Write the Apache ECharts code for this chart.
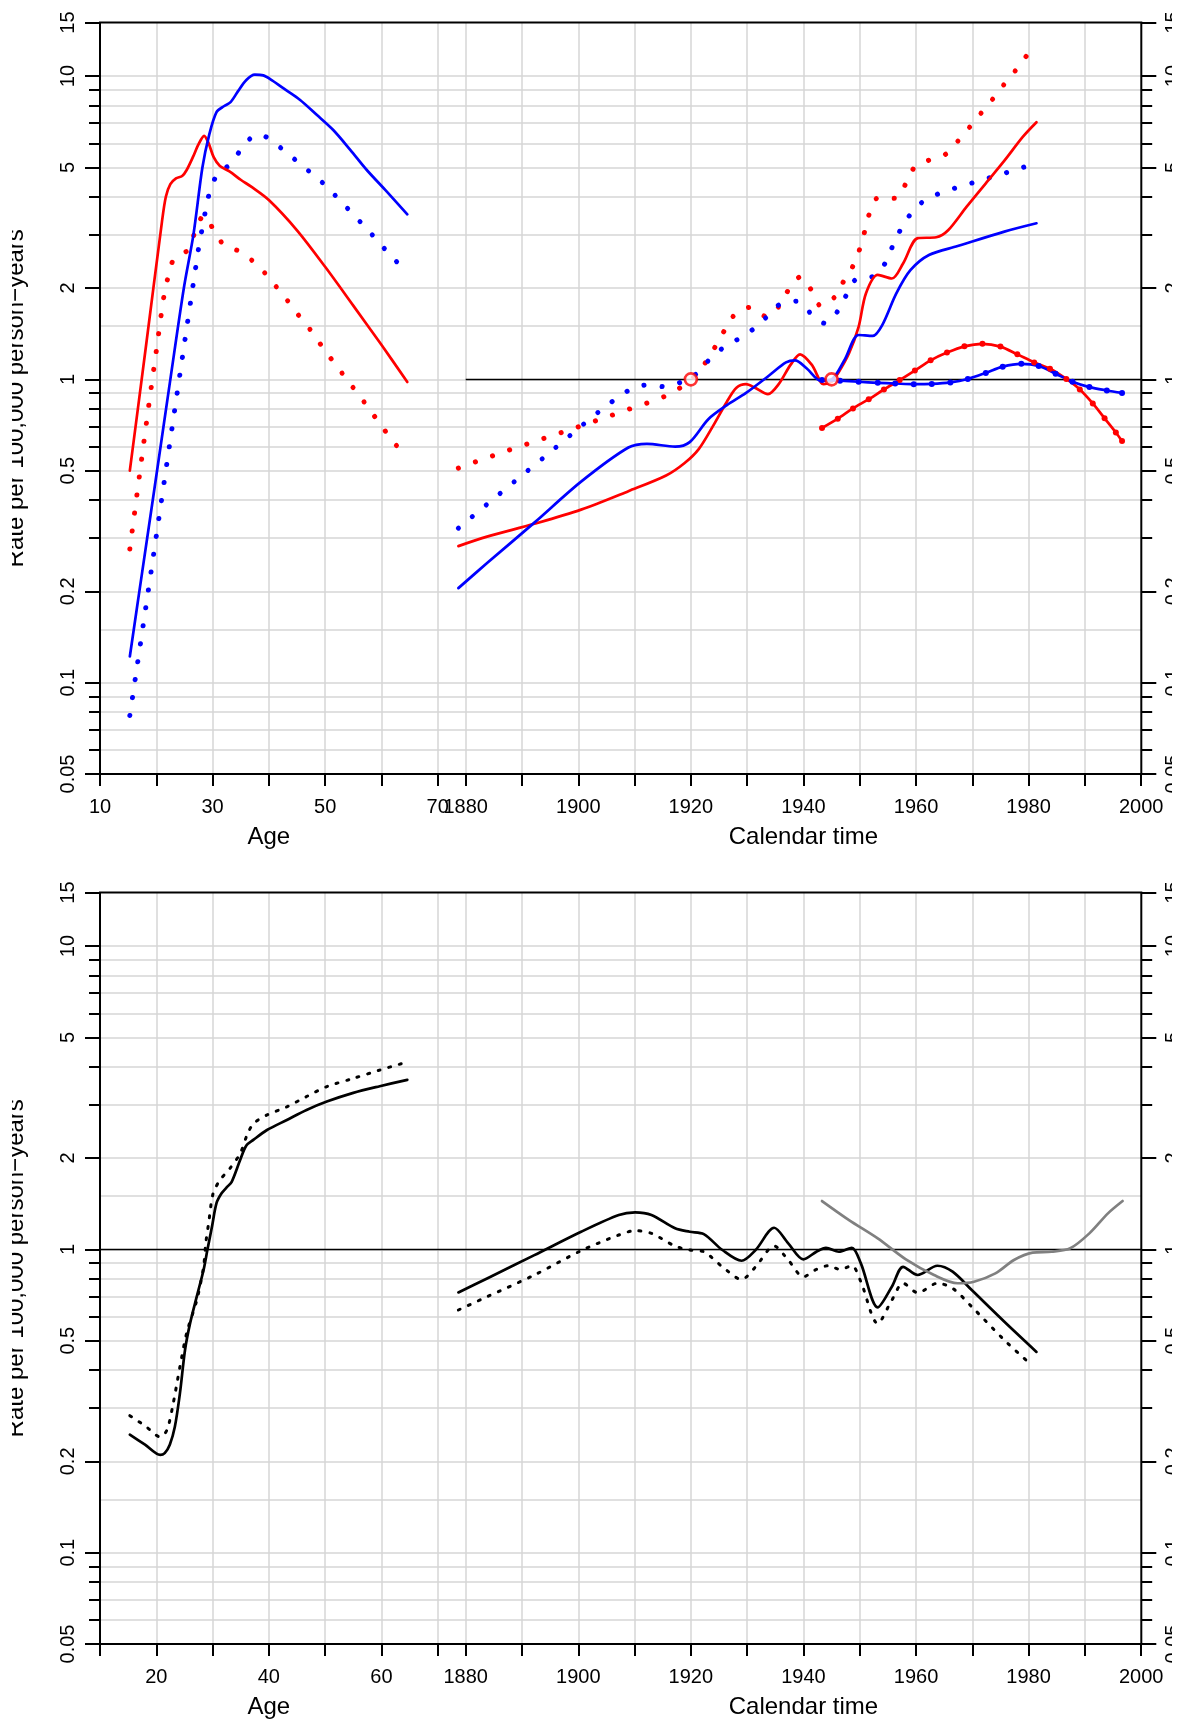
<!DOCTYPE html>
<html><head><meta charset="utf-8">
<script src="https://cdn.jsdelivr.net/npm/echarts@6/dist/echarts.min.js"></script>
<style>html,body{margin:0;padding:0;background:#fff}#c{width:1177px;height:1722px}</style>
</head><body><div id="c"></div>
<script>
// ---------- axis ticks / labels ----------
const topAgeLabels = [10, 30, 50, 70];
const botAgeLabels = [20, 40, 60];
const calTicks = [1880, 1890, 1900, 1910, 1920, 1930, 1940, 1950, 1960, 1970, 1980, 1990, 2000];
const calGrid = [1880, 1890, 1900, 1910, 1920, 1930, 1940, 1950, 1960, 1970, 1980, 1990];
const calLabels = [1880, 1900, 1920, 1940, 1960, 1980, 2000];
const yMajor = [0.05, 0.1, 0.2, 0.5, 1, 2, 5, 10, 15];
const yMinor = [0.06, 0.07, 0.08, 0.09, 0.3, 0.4, 0.6, 0.7, 0.8, 0.9, 3, 4, 6, 7, 8, 9];
const yGrid = [0.06, 0.07, 0.08, 0.09, 0.1, 0.15, 0.2, 0.3, 0.4, 0.5, 0.6, 0.7, 0.8, 0.9, 1, 1.5, 2, 3, 4, 5, 6, 7, 8, 9, 10];

// ---------- top panel: age effects ----------
const topAgeBlueSolid = [[15.3,0.122],[17.5,0.232],[20,0.48],[22.5,1.0],[24.9,2.0],[26.6,3.0],[28.2,5.0],[29.4,6.4],[30.7,7.6],[32,7.95],[33.2,8.2],[34.5,8.9],[36,9.7],[37.5,10.1],[39,10.05],[40.5,9.7],[43,9.0],[45.5,8.35],[48.5,7.45],[51.4,6.65],[54.5,5.7],[57.4,4.9],[61,4.15],[64.6,3.5]];
const topAgeRedSolid = [[15.3,0.5],[18.2,1.3],[21.0,3.3],[21.7,4.0],[22.5,4.4],[23.5,4.6],[24.6,4.68],[25.4,4.9],[26.5,5.4],[27.5,5.95],[28.5,6.35],[29.3,6.0],[30.2,5.4],[31.3,5.05],[33,4.85],[35,4.55],[37,4.3],[40,3.9],[45,3.1],[50,2.35],[55,1.75],[60,1.3],[64.6,0.98]];
const topAgeRedDot = [[15.3,0.276],[17,0.48],[18.7,0.83],[20,1.24],[21.4,1.9],[22.3,2.25],[23.0,2.47],[24.3,2.58],[25.6,2.67],[26.8,3.03],[28.1,3.43],[28.8,3.45],[30,3.15],[31.8,2.80],[33.2,2.7],[34.7,2.65],[37.3,2.44],[39.6,2.21],[41.6,1.99],[43.7,1.78],[45.7,1.59],[47.7,1.43],[49.5,1.28],[51.5,1.14],[53.5,1.02],[55.4,0.917],[57.4,0.82],[59.3,0.732],[61.2,0.656],[63.2,0.588]];
const topAgeBlueDot = [[15.3,0.078],[19.1,0.234],[23.3,0.80],[27.6,2.77],[28.2,3.17],[28.8,3.64],[29.5,4.15],[30.8,4.74],[32,4.95],[33.3,5.13],[35.1,5.75],[37.3,6.35],[38.6,6.4],[40.3,6.15],[42.8,5.66],[45.3,5.18],[47.8,4.74],[50.3,4.32],[52.5,3.91],[54.8,3.53],[57,3.19],[59.2,2.88],[61.3,2.60],[63.6,2.35]];

// ---------- top panel: calendar-time effects ----------
const topCalRedDot = [[1878.7,0.51],[1884.8,0.56],[1891.0,0.613],[1897.1,0.669],[1903.3,0.732],[1909.4,0.802],[1912.5,0.839],[1915.6,0.883],[1918.3,0.943],[1920.1,1.0],[1922.8,1.149],[1924.5,1.297],[1926.1,1.462],[1927.9,1.642],[1930.6,1.727],[1933.5,1.608],[1935.8,1.754],[1937.4,1.979],[1939.5,2.179],[1941.5,1.958],[1943.1,1.745],[1945.5,1.864],[1947.1,2.099],[1948.8,2.364],[1950.0,2.69],[1950.9,3.085],[1951.7,3.51],[1953.3,3.97],[1956.4,3.95],[1958.2,4.42],[1959.7,4.99],[1962.3,5.28],[1965.3,5.53],[1967.5,6.12],[1969.6,6.81],[1971.6,7.56],[1973.7,8.43],[1975.7,9.41],[1977.8,10.5],[1979.7,11.7]];
const topCalBlueDot = [[1878.7,0.323],[1883.7,0.386],[1888.7,0.461],[1893.7,0.549],[1898.7,0.657],[1903.7,0.783],[1909.0,0.921],[1912.1,0.958],[1915.3,0.946],[1918.3,0.98],[1920.9,1.04],[1923.1,1.152],[1925.6,1.265],[1928.4,1.358],[1931.1,1.465],[1933.5,1.608],[1935.8,1.767],[1938.9,1.811],[1941.3,1.651],[1943.8,1.53],[1946.1,1.68],[1947.6,1.892],[1949.3,2.136],[1952.4,2.186],[1954.5,2.41],[1955.8,2.737],[1957.2,3.10],[1958.9,3.48],[1961.2,3.85],[1964.1,4.10],[1967.1,4.28],[1970.3,4.46],[1973.4,4.64],[1976.5,4.83],[1979.5,5.03]];
const topCalRedSolid = [[1878.7,0.282],[1883.8,0.303],[1892.2,0.334],[1900.5,0.372],[1908.9,0.428],[1915.6,0.482],[1918.9,0.53],[1921.4,0.589],[1923.9,0.70],[1926.4,0.844],[1928.1,0.938],[1929.8,0.964],[1931.4,0.938],[1933.7,0.894],[1935.6,0.964],[1937.7,1.116],[1939.4,1.209],[1941.5,1.116],[1943.6,0.964],[1945.0,0.98],[1946.1,1.044],[1948.1,1.22],[1949.8,1.49],[1951.1,1.92],[1953.2,2.21],[1955.7,2.15],[1957.7,2.41],[1960.3,2.92],[1963.6,2.94],[1965.7,3.10],[1969.0,3.71],[1972.4,4.43],[1975.7,5.26],[1979.0,6.31],[1981.4,7.04]];
const topCalBlueSolid = [[1878.7,0.205],[1883.8,0.248],[1892.2,0.337],[1900.5,0.46],[1908.9,0.596],[1912.2,0.613],[1917.2,0.60],[1919.8,0.621],[1923.1,0.739],[1926.4,0.822],[1929.8,0.902],[1933.9,1.03],[1936.9,1.137],[1938.5,1.155],[1940.6,1.086],[1943.1,0.99],[1945.0,1.0],[1947.3,1.158],[1949.8,1.40],[1952.3,1.39],[1954.0,1.51],[1956.5,1.92],[1959.0,2.29],[1962.3,2.57],[1967.4,2.75],[1975.7,3.07],[1981.4,3.27]];
const topCalRedPeriod = [[1943.3,0.691],[1946.1,0.742],[1948.8,0.802],[1951.6,0.86],[1954.3,0.926],[1957.1,0.995],[1959.8,1.07],[1962.6,1.155],[1965.5,1.225],[1968.6,1.285],[1971.8,1.31],[1975.0,1.282],[1978.0,1.209],[1981.0,1.137],[1983.8,1.084],[1986.7,1.003],[1989.1,0.926],[1991.4,0.833],[1993.5,0.744],[1995.5,0.668],[1996.6,0.626]];
const topCalBluePeriod = [[1943.3,0.995],[1946.5,0.99],[1949.8,0.982],[1953.2,0.974],[1956.3,0.969],[1959.6,0.964],[1962.8,0.966],[1966.1,0.977],[1969.2,1.003],[1972.4,1.05],[1975.4,1.101],[1978.7,1.125],[1981.8,1.107],[1984.8,1.044],[1987.8,0.982],[1990.8,0.943],[1993.9,0.919],[1996.6,0.902]];
const topRefPoints = [[1920, 1], [1945, 1]];

// ---------- bottom panel ----------
const botAgeSolid = [[15.3,0.245],[18,0.227],[20.7,0.21],[21.5,0.213],[22.4,0.227],[23.3,0.26],[24.2,0.335],[25.1,0.465],[26.0,0.57],[27.2,0.70],[28.4,0.855],[29.1,1.0],[29.9,1.19],[30.7,1.42],[31.6,1.53],[32.5,1.6],[33.4,1.67],[34.9,1.97],[36,2.2],[37.3,2.3],[39.6,2.47],[43.2,2.67],[46.7,2.88],[50.3,3.07],[55,3.28],[59.7,3.45],[64.6,3.62]];
const botAgeDot = [[15.3,0.283],[18,0.262],[20.7,0.241],[21.9,0.254],[23.0,0.31],[24.2,0.41],[25.4,0.53],[27.2,0.68],[28.4,0.876],[28.8,1.05],[29.3,1.22],[30.1,1.53],[31.3,1.69],[33.1,1.85],[34.9,2.07],[36.2,2.4],[37.3,2.6],[39.6,2.77],[43.2,2.95],[46.7,3.19],[50.3,3.44],[55,3.66],[59.7,3.90],[64.1,4.12]];
const botCalSolid = [[1878.7,0.721],[1883.8,0.802],[1892.2,0.957],[1900.5,1.143],[1907.2,1.298],[1910.1,1.324],[1913.0,1.298],[1917.2,1.173],[1919.8,1.143],[1922.3,1.123],[1925.6,0.995],[1929.0,0.917],[1931.5,0.995],[1934.8,1.178],[1937.3,1.047],[1940.0,0.927],[1942.3,0.982],[1944.0,1.012],[1946.3,0.982],[1948.6,1.012],[1950.2,0.899],[1953.2,0.644],[1955.7,0.753],[1957.7,0.876],[1960.3,0.823],[1963.8,0.883],[1966.5,0.844],[1969.9,0.734],[1975.7,0.577],[1981.4,0.459]];
const botCalDot = [[1878.7,0.631],[1883.8,0.698],[1892.2,0.823],[1900.5,0.99],[1907.2,1.115],[1910.1,1.152],[1913.0,1.129],[1917.2,1.025],[1919.8,0.995],[1922.3,0.982],[1925.6,0.876],[1929.0,0.796],[1931.5,0.876],[1934.8,1.025],[1937.3,0.922],[1940.0,0.812],[1942.3,0.859],[1944.4,0.883],[1946.5,0.859],[1948.6,0.883],[1950.2,0.782],[1953.2,0.57],[1955.7,0.68],[1957.7,0.773],[1960.3,0.719],[1963.8,0.773],[1966.5,0.744],[1969.9,0.647],[1975.7,0.502],[1980.3,0.419]];
const botCalGray = [[1943.3,1.443],[1948.1,1.249],[1953.2,1.087],[1958.2,0.927],[1963.2,0.823],[1967.4,0.773],[1970.3,0.782],[1974.1,0.833],[1977.4,0.922],[1980.7,0.975],[1984.1,0.982],[1987.4,1.008],[1990.8,1.129],[1994.1,1.314],[1996.7,1.443]];

// ---------- layout & style ----------
const FONT = '"Liberation Sans", Arial, Helvetica, sans-serif';
const GRIDC = '#d6d6d6';
const PX_PER_YEAR = 5.629;
const PL = 100, PW = 1041.3, AGEW = 337.7, PH = 751.4;
const CALL = 465.7 - 10 * PX_PER_YEAR, CALW = 130 * PX_PER_YEAR; // calendar axis runs 1870..2000
const TOPS = [22.6, 892.6];
const fmtY = v => String(+(+v).toPrecision(4));
const tickStyle = { color: '#000', width: 2 };
const nameStyle = { fontSize: 24, color: '#000', fontFamily: FONT };

const grids = [], xAxes = [], yAxes = [], series = [];
TOPS.forEach((T, p) => {
  const g0 = grids.length;
  grids.push({ left: PL, top: T, width: PW, height: PH, show: true, borderColor: '#000', borderWidth: 2, backgroundColor: 'transparent', z: 10, containLabel: false, outerBoundsMode: 'none' });
  grids.push({ left: PL, top: T, width: AGEW, height: PH, containLabel: false, outerBoundsMode: 'none' });
  grids.push({ left: CALL, top: T, width: CALW, height: PH, containLabel: false, outerBoundsMode: 'none' });
  const x0 = xAxes.length;
  xAxes.push({ gridIndex: g0, type: 'value', min: 0, max: 1, show: false });
  xAxes.push({ gridIndex: g0 + 1, type: 'value', min: 10, max: 70, interval: 10,
    axisLine: { show: false }, axisTick: { show: true, length: 12, lineStyle: tickStyle },
    axisLabel: { customValues: p === 0 ? topAgeLabels : botAgeLabels, margin: 23, fontSize: 20, color: '#000', fontFamily: FONT, formatter: v => String(v) },
    splitLine: { show: true, showMinLine: false, lineStyle: { color: GRIDC, width: 1.5 } },
    name: 'Age', nameLocation: 'middle', nameGap: 51, nameTextStyle: nameStyle });
  xAxes.push({ gridIndex: g0 + 2, type: 'value', min: 1870, max: 2000, interval: 10,
    axisLine: { show: false }, axisTick: { show: true, customValues: calTicks, length: 12, lineStyle: tickStyle },
    axisLabel: { customValues: calLabels, margin: 23, fontSize: 20, color: '#000', fontFamily: FONT, formatter: v => String(v) },
    splitLine: { show: false },
    name: 'Calendar time', nameLocation: 'middle', nameGap: 51,
    nameTextStyle: Object.assign({ padding: [0, 0, 0, 10 * PX_PER_YEAR] }, nameStyle) });
  const y0 = yAxes.length;
  const logBase = { type: 'log', logBase: 10, min: 0.05, max: 15, axisLine: { show: false }, splitLine: { show: false } };
  yAxes.push(Object.assign({}, logBase, { gridIndex: g0, position: 'left',
    axisTick: { show: true, customValues: yMajor, length: 15, lineStyle: tickStyle },
    axisLabel: { customValues: yMajor, rotate: 90, margin: 22, fontSize: 20, color: '#000', fontFamily: FONT, formatter: fmtY },
    name: 'Rate per 100,000 person\u2212years', nameLocation: 'middle', nameGap: 72, nameTextStyle: nameStyle }));
  yAxes.push(Object.assign({}, logBase, { gridIndex: g0, position: 'right',
    axisTick: { show: true, customValues: yMajor, length: 15, lineStyle: tickStyle },
    axisLabel: { customValues: yMajor, rotate: 90, margin: 22, fontSize: 20, color: '#000', fontFamily: FONT, formatter: fmtY } }));
  yAxes.push(Object.assign({}, logBase, { gridIndex: g0 + 1, position: 'left',
    axisTick: { show: true, customValues: yMinor, length: 11, lineStyle: tickStyle }, axisLabel: { show: false } }));
  yAxes.push(Object.assign({}, logBase, { gridIndex: g0 + 2, position: 'right',
    axisTick: { show: true, customValues: yMinor, length: 11, lineStyle: tickStyle }, axisLabel: { show: false } }));

  const mlBase = { silent: true, symbol: ['none', 'none'], label: { show: false }, animation: false };
  // horizontal gridlines (beneath the data)
  series.push({ type: 'line', xAxisIndex: x0, yAxisIndex: y0, data: [], z: 1, silent: true,
    markLine: Object.assign({ z: 1, lineStyle: { color: GRIDC, width: 1.5, type: 'solid' }, data: yGrid.map(v => ({ yAxis: v })) }, mlBase) });
  // vertical calendar gridlines
  series.push({ type: 'line', xAxisIndex: x0 + 2, yAxisIndex: y0 + 3, data: [], z: 1, silent: true,
    markLine: Object.assign({ z: 1, lineStyle: { color: GRIDC, width: 1.5, type: 'solid' }, data: calGrid.map(v => ({ xAxis: v })) }, mlBase) });
  // reference line at 1
  const refStyle = { color: '#000', width: 1.3, type: 'solid' };
  if (p === 0) series.push({ type: 'line', xAxisIndex: x0 + 2, yAxisIndex: y0 + 3, data: [], z: 2, silent: true,
    markLine: Object.assign({ z: 2, lineStyle: refStyle, data: [[{ coord: [1880, 1] }, { coord: [2000, 1] }]] }, mlBase) });
  else series.push({ type: 'line', xAxisIndex: x0, yAxisIndex: y0, data: [], z: 2, silent: true,
    markLine: Object.assign({ z: 2, lineStyle: refStyle, data: [{ yAxis: 1 }] }, mlBase) });
});

function ln(data, xi, yi, color, kind, extra) {
  const ls = { color: color, width: 2.7, type: 'solid', cap: 'round', join: 'round' };
  if (kind === 'dot') { ls.width = 5; ls.type = [0.1, 18]; }
  if (kind === 'dash') { ls.width = 3; ls.type = [2, 9]; }
  return Object.assign({ type: 'line', xAxisIndex: xi, yAxisIndex: yi, data: data, smooth: 0.3, clip: false,
    symbol: 'none', showSymbol: false, lineStyle: ls, itemStyle: { color: color }, z: 3, silent: true }, extra || {});
}
const RED = '#ff0000', BLUE = '#0000ff';
// top panel (x axes 1,2 ; y axes 2,3)
series.push(ln(topAgeRedDot, 1, 2, RED, 'dot'));
series.push(ln(topAgeBlueDot, 1, 2, BLUE, 'dot'));
series.push(ln(topAgeRedSolid, 1, 2, RED, 'solid'));
series.push(ln(topAgeBlueSolid, 1, 2, BLUE, 'solid'));
series.push(ln(topCalRedDot, 2, 3, RED, 'dot'));
series.push(ln(topCalBlueDot, 2, 3, BLUE, 'dot'));
series.push(ln(topCalRedSolid, 2, 3, RED, 'solid'));
series.push(ln(topCalBlueSolid, 2, 3, BLUE, 'solid'));
series.push(ln(topCalRedPeriod, 2, 3, RED, 'solid', { symbol: 'circle', showSymbol: true, symbolSize: 6 }));
series.push(ln(topCalBluePeriod, 2, 3, BLUE, 'solid', { symbol: 'circle', showSymbol: true, symbolSize: 6 }));
series.push({ type: 'scatter', xAxisIndex: 2, yAxisIndex: 3, data: topRefPoints, symbol: 'circle', symbolSize: 12, z: 6, silent: true, clip: false,
  itemStyle: { color: '#ffffff', borderColor: RED, borderWidth: 2.6 } });
// bottom panel (x axes 4,5 ; y axes 6,7)
series.push(ln(botAgeDot, 4, 6, '#000', 'dash'));
series.push(ln(botAgeSolid, 4, 6, '#000', 'solid'));
series.push(ln(botCalDot, 5, 7, '#000', 'dash'));
series.push(ln(botCalSolid, 5, 7, '#000', 'solid'));
series.push(ln(botCalGray, 5, 7, '#808080', 'solid'));

const chart = echarts.init(document.getElementById('c'), null, { renderer: 'canvas' });
chart.setOption({ animation: false, backgroundColor: '#ffffff', textStyle: { fontFamily: FONT },
  grid: grids, xAxis: xAxes, yAxis: yAxes, series: series,
  // the reference's outer-margin text is cut off at both page edges
  graphic: [
    { type: 'rect', left: 0, top: 0, z: 100, silent: true, shape: { width: 12, height: 1722 }, style: { fill: '#ffffff' } },
    { type: 'rect', left: 1172, top: 0, z: 100, silent: true, shape: { width: 5, height: 1722 }, style: { fill: '#ffffff' } }
  ] });
</script></body></html>
